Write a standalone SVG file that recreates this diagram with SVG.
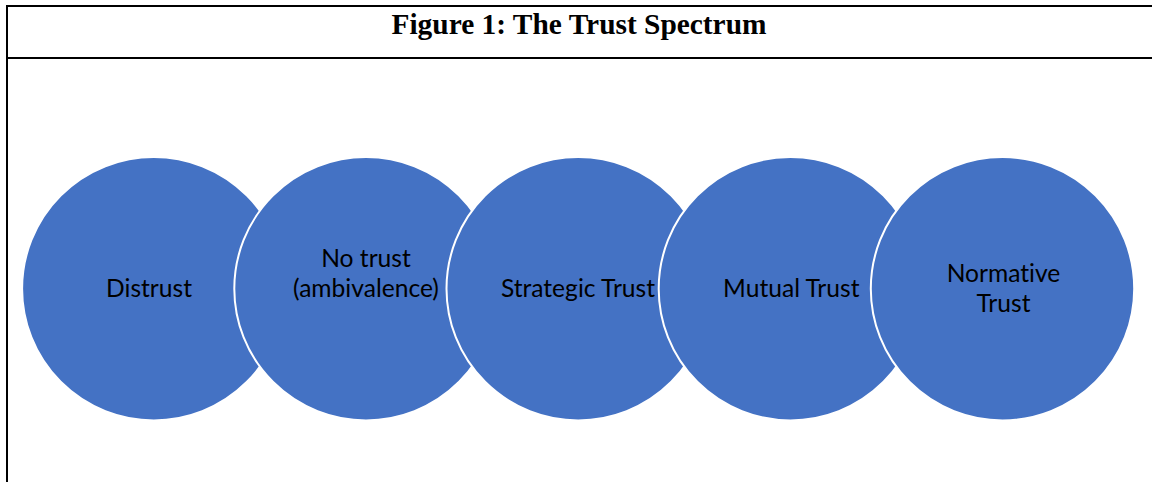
<svg xmlns="http://www.w3.org/2000/svg" width="1152" height="482" viewBox="0 0 1152 482">
<style>
.frame{stroke:#000;stroke-width:2;fill:none}
.title{font-family:"Liberation Serif","Times New Roman",serif;font-weight:bold;font-size:29.4px;fill:#000}
.circ{fill:#4472C4;stroke:#fff;stroke-width:2}
.lbl{font-family:Lato,"Liberation Sans",sans-serif;font-size:24.6px;fill:#000;text-anchor:middle;font-variant-ligatures:none}
</style>
<rect width="1152" height="482" fill="#fff"/>
<g id="frame">
<line class="frame" x1="6" y1="6" x2="1152" y2="6"/>
<line class="frame" x1="6" y1="58" x2="1152" y2="58"/>
<line class="frame" x1="7" y1="5" x2="7" y2="482"/>
<text class="title" x="579" y="34" text-anchor="middle">Figure 1: The Trust Spectrum</text>
</g>
<g id="connectors"></g>
<g id="n1"><circle class="circ" cx="153.8" cy="288.7" r="131.7"/><text class="lbl" x="149" y="296.5">Distrust</text></g>
<g id="n2"><circle class="circ" cx="366" cy="288.7" r="131.7"/><text class="lbl" x="366" y="266.7">No trust</text><text class="lbl" x="366" y="296.7">(ambivalence)</text></g>
<g id="n3"><circle class="circ" cx="578.2" cy="288.7" r="131.7"/><text class="lbl" x="578" y="296.5">Strategic Trust</text></g>
<g id="n4"><circle class="circ" cx="790.4" cy="288.7" r="131.7"/><text class="lbl" x="791.3" y="296.5">Mutual Trust</text></g>
<g id="n5"><circle class="circ" cx="1002.5" cy="288.7" r="131.7"/><text class="lbl" x="1003.5" y="281.7">Normative</text><text class="lbl" x="1003.5" y="311.7">Trust</text></g>
</svg>
